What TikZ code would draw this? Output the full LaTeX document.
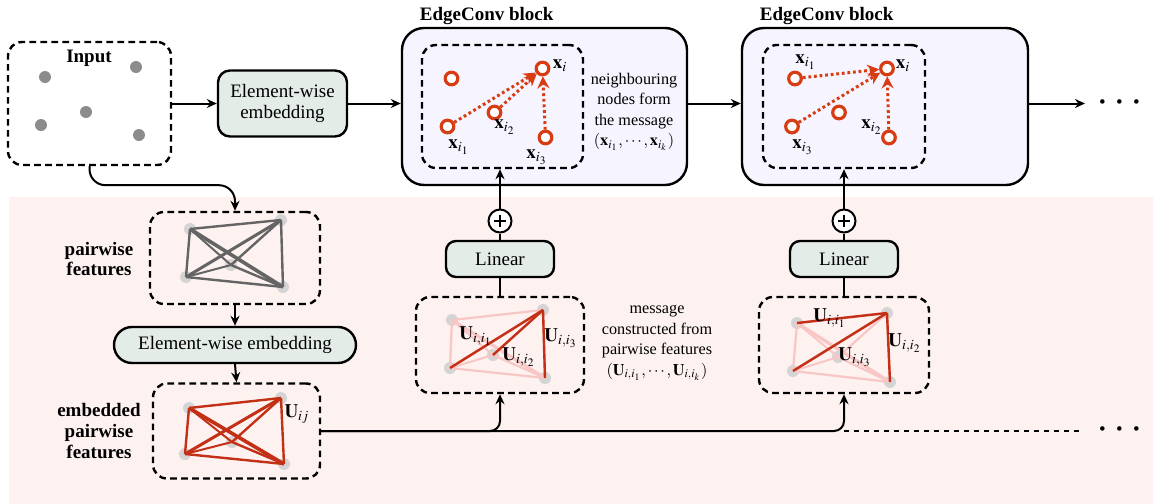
\documentclass[tikz,border=0pt]{standalone}
\usepackage{mathptmx}
\usepackage{fontspec}
\setmainfont{Liberation Serif}
\usetikzlibrary{arrows.meta,positioning}

\definecolor{bgpink}{RGB}{253,242,240}
\definecolor{blocklav}{RGB}{246,244,254}
\definecolor{boxgreen}{RGB}{228,236,232}
\definecolor{nodered}{RGB}{216,60,18}
\definecolor{edgered}{RGB}{196,48,22}
\definecolor{edgepink}{RGB}{248,198,196}
\definecolor{edgegray}{RGB}{100,100,100}
\definecolor{gnodegray}{RGB}{212,212,212}
\definecolor{dotgray}{RGB}{140,140,140}

\newcommand{\moredots}{{\fontsize{19}{19}\selectfont ·\hspace{2.2pt}·\hspace{2.2pt}·}}

\tikzset{
  box/.style={draw, line width=1.2pt, rounded corners=6pt, fill=boxgreen, align=center},
  dbox/.style={draw, line width=1.2pt, dash pattern=on 3.3pt off 2.2pt, rounded corners=7pt},
  block/.style={draw, line width=1.2pt, rounded corners=11pt, fill=blocklav},
  title/.style={font=\fontsize{9.5}{10.4}\selectfont\bfseries},
  side/.style={align=center, font=\fontsize{8.1}{10.3}\selectfont},
  arr/.style={-{Stealth[length=5pt,width=4.5pt]}, line width=1pt},
  xnode/.style={circle, draw=nodered, line width=1.6pt, fill=white, minimum size=6.3pt, inner sep=0pt},
  msgarr/.style={nodered, line width=1.5pt, dash pattern=on 1.4pt off 1.4pt, -{Stealth[length=6pt,width=6pt]}},
  gnode/.style={circle, fill=gnodegray, minimum size=6pt, inner sep=0pt},
  ptnode/.style={circle, fill=dotgray, minimum size=6pt, inner sep=0pt},
  oplusnode/.style={circle, draw, line width=1pt, fill=white, minimum size=11.5pt, inner sep=0pt,
    path picture={\draw[line width=1.3pt] (path picture bounding box.center) ++(-3pt,0) -- ++(6pt,0)
      (path picture bounding box.center) ++(0,-3pt) -- ++(0,6pt);}},
}

\begin{document}
\begin{tikzpicture}[x=0.5pt, y=-0.5pt, font=\fontsize{9.5}{10.4}\selectfont]
  \useasboundingbox (0,0) rectangle (1153,504);
  % pairwise part
  \fill[bgpink] (9,197) rectangle (1153,504);

  % input
  \node[dbox, minimum width=81.5pt, minimum height=61.5pt] (input) at (89.5,103.5) {};
  \node[title] (intitle) at (89,58) {Input};
  \foreach \p/\x/\y in {1/45/77, 2/136/67, 3/86/112, 4/41/125, 5/139/135}
    \node[ptnode] (pt\p) at (\x,\y) {};

  \node[box, minimum width=64.5pt, minimum height=33pt] (emb1) at (282.5,103.5) {Element-wise\\embedding};

  % EdgeConv blocks
  \node[block, minimum width=142.5pt, minimum height=78.5pt] (blk1) at (544.5,106.5) {};
  \node[title, above right=-2.5pt and 6pt of blk1.north west] (t1) {EdgeConv block};
  \node[dbox, minimum width=80.5pt, minimum height=61.5pt] (in1) at (502.5,106.5) {};
  \node[side] (nbtext) at (634,112) {neighbouring\\nodes form\\the message\\$(\mathbf{x}_{i_1}, \cdots, \mathbf{x}_{i_k})$};

  \node[block, minimum width=143pt, minimum height=78.5pt] (blk2) at (885,106.5) {};
  \node[title, above right=-2.5pt and 6pt of blk2.north west] (t2) {EdgeConv block};
  \node[dbox, minimum width=81pt, minimum height=61.5pt] (in2) at (844,106.5) {};

  \begin{scope}[shift={(in1.center)}]
    \node[xnode] (na1) at (-51,-28) {};
    \node[xnode] (nb1) at (40,-38) {};
    \node[xnode] (nc1) at (-8,6) {};
    \node[xnode] (nd1) at (-55,20) {};
    \node[xnode] (ne1) at (43,31) {};
    \draw[msgarr] (nd1) -- (nb1);
    \draw[msgarr] (nc1) -- (nb1);
    \draw[msgarr] (ne1) -- (nb1);
    \node at (57.5,-40.5) {$\mathbf{x}_i$};
    \node at (-43.5,40.5) {$\mathbf{x}_{i_1}$};
    \node at (2.5,20.5) {$\mathbf{x}_{i_2}$};
    \node at (34.5,50.5) {$\mathbf{x}_{i_3}$};
  \end{scope}

  \begin{scope}[shift={(in2.center)}]
    \node[xnode] (na2) at (-49,-28) {};
    \node[xnode] (nb2) at (43,-38) {};
    \node[xnode] (nc2) at (-5,6) {};
    \node[xnode] (nd2) at (-52,20) {};
    \node[xnode] (ne2) at (45,31) {};
    \draw[msgarr] (na2) -- (nb2);
    \draw[msgarr] (nd2) -- (nb2);
    \draw[msgarr] (ne2) -- (nb2);
    \node at (-38,-44.5) {$\mathbf{x}_{i_1}$};
    \node at (59,-40.5) {$\mathbf{x}_i$};
    \node at (-41,40.5) {$\mathbf{x}_{i_3}$};
    \node at (28,20.5) {$\mathbf{x}_{i_2}$};
  \end{scope}

  \coordinate (out1) at (1085,103.5);
  \node (more1) at (1120,107) {\moredots};

  \draw[arr] (input.east |- emb1.west) -- (emb1.west);
  \draw[arr] (emb1.east) -- (emb1.east -| blk1.west);
  \draw[arr] (blk1.east |- emb1.east) -- (blk2.west |- emb1.east);
  \draw[arr] (blk2.east |- emb1.east) -- (out1);

  % pairwise features
  \node[dbox, minimum width=85pt, minimum height=46pt] (pair) at (235,258) {};
  \node[title, align=center] (pairlbl) at (99,259) {pairwise\\features};
  \node[box, rounded corners=9pt, minimum width=121pt, minimum height=18pt] (emb2) at (235,345) {Element-wise embedding};
  \node[dbox, minimum width=83.5pt, minimum height=47.5pt] (embp) at (236.5,431) {};
  \node[title, align=center] (embplbl) at (99,431) {embedded\\pairwise\\features};

  \begin{scope}[shift={(pair.center)}]
    \node[gnode] (pa) at (-45,-29) {};
    \node[gnode] (pb) at (46,-38) {};
    \node[gnode] (pc) at (-4,7) {};
    \node[gnode] (pd) at (-49,19) {};
    \node[gnode] (pe) at (48,29) {};
    \foreach \s/\t/\w in {pa/pb/1.2, pa/pd/1.2, pb/pe/1.2, pd/pe/1.2, pa/pe/1.8, pb/pd/1.5, pa/pc/1, pb/pc/1.2, pc/pd/1, pc/pe/1.2}
      \draw[edgegray, line width=\w pt] (\s.center) -- (\t.center);
  \end{scope}

  \begin{scope}[shift={(embp.center)}]
    \node[gnode] (qa) at (-47.5,-23) {};
    \node[gnode] (qb) at (44.5,-33) {};
    \node[gnode] (qc) at (-4.5,11) {};
    \node[gnode] (qd) at (-51.5,23) {};
    \node[gnode] (qe) at (47.5,33) {};
    \foreach \s/\t/\w in {qa/qb/1.2, qa/qd/1.2, qb/qe/1.2, qd/qe/1.2, qa/qe/1.8, qb/qd/1.5, qa/qc/1, qb/qc/1.2, qc/qd/1, qc/qe/1.2}
      \draw[edgered, line width=\w pt] (\s.center) -- (\t.center);
    \node at (60.5,-17) {$\mathbf{U}_{ij}$};
  \end{scope}

  % messages built from pairwise features
  \node[dbox, minimum width=84pt, minimum height=48pt] (msg1) at (500,345) {};
  \node[side] (msgtext) at (657,343) {message\\constructed from\\pairwise features\\$(\mathbf{U}_{i,i_1}, \cdots, \mathbf{U}_{i,i_k})$};
  \node[dbox, minimum width=85pt, minimum height=48pt] (msg2) at (844,345) {};

  \begin{scope}[shift={(msg1.center)}]
    \node[gnode] (ma1) at (-48,-25) {};
    \node[gnode] (mb1) at (43,-35) {};
    \node[gnode] (mc1) at (-7,10) {};
    \node[gnode] (md1) at (-50,23) {};
    \node[gnode] (me1) at (45,33) {};
    \foreach \s/\t/\w in {ma1/mb1/1.1, ma1/md1/1.1, mb1/me1/1.1, md1/me1/1.1, ma1/me1/1.6, mb1/md1/1.3, ma1/mc1/1, mb1/mc1/1.1, mc1/md1/1, mc1/me1/1.1}
      \draw[edgepink, line width=\w pt] (\s.center) -- (\t.center);
    \draw[edgered, line width=1.2pt] (md1.center) -- (mb1.center);
    \draw[edgered, line width=1.2pt] (mc1.center) -- (mb1.center);
    \draw[edgered, line width=1.2pt] (me1.center) -- (mb1.center);
    \node at (-24,-9) {$\mathbf{U}_{i,i_1}$};
    \node at (19,12) {$\mathbf{U}_{i,i_2}$};
    \node at (61,-7) {$\mathbf{U}_{i,i_3}$};
  \end{scope}

  \begin{scope}[shift={(msg2.center)}]
    \node[gnode] (ma2) at (-47,-22) {};
    \node[gnode] (mb2) at (43,-32) {};
    \node[gnode] (mc2) at (-6,12) {};
    \node[gnode] (md2) at (-51,26) {};
    \node[gnode] (me2) at (46,37) {};
    \foreach \s/\t/\w in {ma2/mb2/1.1, ma2/md2/1.1, mb2/me2/1.1, md2/me2/1.1, ma2/me2/1.6, mb2/md2/1.3, ma2/mc2/1, mb2/mc2/1.1, mc2/md2/1, mc2/me2/1.1}
      \draw[edgepink, line width=\w pt] (\s.center) -- (\t.center);
    \draw[edgered, line width=1.2pt] (ma2.center) -- (mb2.center);
    \draw[edgered, line width=1.2pt] (me2.center) -- (mb2.center);
    \draw[edgered, line width=1.2pt] (md2.center) -- (mb2.center);
    \node at (-14,-27) {$\mathbf{U}_{i,i_1}$};
    \node at (61,-2) {$\mathbf{U}_{i,i_2}$};
    \node at (11,12) {$\mathbf{U}_{i,i_3}$};
  \end{scope}

  % linear + sum
  \node[box, rounded corners=5pt, minimum width=54pt, minimum height=18pt] (lin1) at (500,259) {Linear};
  \node[oplusnode] (op1) at (500,221) {};
  \node[box, rounded corners=5pt, minimum width=54pt, minimum height=18pt] (lin2) at (844,259) {Linear};
  \node[oplusnode] (op2) at (844,221) {};

  \draw[line width=1pt] (msg1.north) -- (lin1.south);
  \draw[line width=1pt] (lin1.north) -- (op1.south);
  \draw[arr] (op1.north) -- (op1.north |- in1.south);
  \draw[line width=1pt] (msg2.north) -- (lin2.south);
  \draw[line width=1pt] (lin2.north) -- (op2.south);
  \draw[arr] (op2.north) -- (op2.north |- in2.south);

  % left column
  \draw[arr, rounded corners=8pt] (input.south) -- ++(0,19) -| (pair.north);
  \draw[arr] (pair.south) -- (emb2.north);
  \draw[arr] (emb2.south) -- (embp.north);

  % bottom bus
  \coordinate (bus) at (1080,431);
  \draw[arr, rounded corners=5pt] (embp.east) -| (msg1.south);
  \draw[arr, rounded corners=5pt] (embp.east) -| (msg2.south);
  \draw[line width=1pt, dash pattern=on 2.5pt off 2.5pt] (msg2.south |- embp.east) -- (bus);
  \node (more2) at (1120,434) {\moredots};
\end{tikzpicture}
\end{document}
